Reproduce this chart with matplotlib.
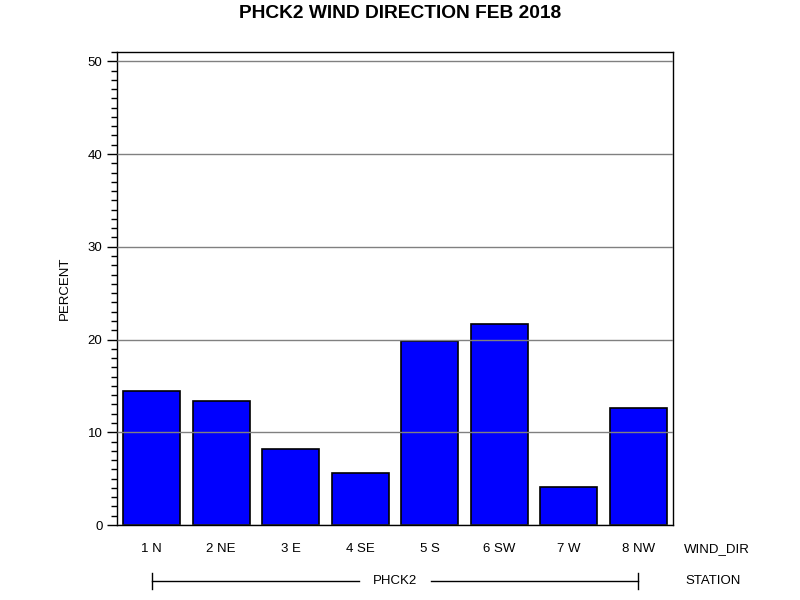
import matplotlib
matplotlib.use("Agg")
import matplotlib.pyplot as plt
import matplotlib.transforms as mtransforms
from matplotlib.ticker import MultipleLocator

categories = ["1 N", "2 NE", "3 E", "4 SE", "5 S", "6 SW", "7 W", "8 NW"]
percent = [14.4, 13.4, 8.2, 5.6, 19.8, 21.7, 4.1, 12.6]
station = "PHCK2"
title = "PHCK2 WIND DIRECTION FEB 2018"

plt.rcParams['font.family'] = ['Liberation Sans', 'DejaVu Sans']

fig = plt.figure(figsize=(8, 6), dpi=100)
ax = fig.add_axes([117/800, 1-525/600, 556/800, 473/600])

x = list(range(len(categories)))
ax.bar(x, percent, width=0.82, color="#0000ff", edgecolor="black", linewidth=1.2, zorder=2)

ax.set_xlim(-0.5, len(categories) - 0.5)
ax.set_ylim(0, 51)
ax.yaxis.set_major_locator(MultipleLocator(10))
ax.yaxis.set_minor_locator(MultipleLocator(1))
ax.tick_params(axis='y', which='major', length=7, width=1, labelsize=9.5, direction='out')
ax.tick_params(axis='y', which='minor', length=4, width=1, direction='out')
ax.set_xticks(x)
ax.set_xticklabels(categories, fontsize=9.5)
ax.tick_params(axis='x', length=0, pad=13)
ax.grid(axis='y', which='major', color='#808080', linewidth=1, zorder=3)
ax.set_axisbelow(False)
for s in ax.spines.values():
    s.set_linewidth(1)
    s.set_color('black')

ax.set_ylabel("PERCENT", fontsize=9.5, labelpad=12)
fig.text(0.5, 1-13/600, title, ha='center', va='center', fontsize=13.8, fontweight='bold')

trans = mtransforms.blended_transform_factory(ax.transData, ax.transAxes)
fig.text(717/800, 1-549/600, "WIND_DIR", ha='center', va='center', fontsize=9.5)
fig.text(713/800, 1-581/600, "STATION", ha='center', va='center', fontsize=9.5)

yline = -(581-525)/473
ytick = 8/473
mid = (x[0] + x[-1]) / 2
gap = 0.52
kw = dict(color='black', linewidth=1, transform=trans, clip_on=False)
ax.plot([x[0], mid - gap], [yline, yline], **kw)
ax.plot([mid + gap, x[-1]], [yline, yline], **kw)
ax.plot([x[0], x[0]], [yline - ytick, yline + ytick], **kw)
ax.plot([x[-1], x[-1]], [yline - ytick, yline + ytick], **kw)
ax.text(mid, yline, station, transform=trans, ha='center', va='center', fontsize=9.5, clip_on=False)

fig.savefig("out.png", dpi=100)
